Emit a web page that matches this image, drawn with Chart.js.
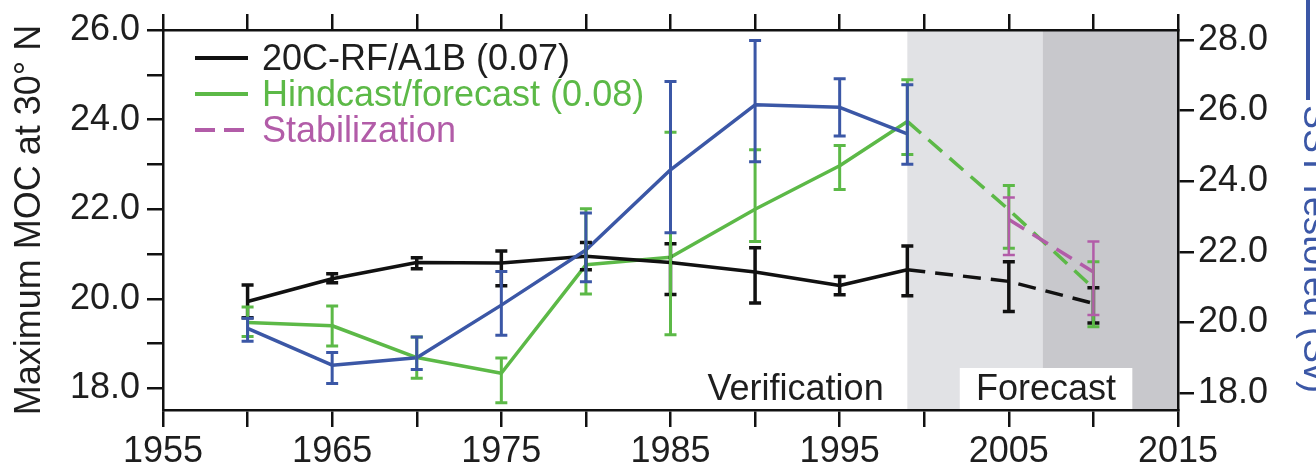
<!DOCTYPE html>
<html>
<head>
<meta charset="utf-8">
<title>Maximum MOC at 30° N</title>
<script src="https://cdn.jsdelivr.net/npm/chart.js@4.4.1/dist/chart.umd.min.js"></script>
<style>
  html, body { margin: 0; padding: 0; background: #fff; }
  #wrap { width: 1316px; height: 474px; }
</style>
</head>
<body>
<div id="wrap"><canvas id="mocChart" width="1316" height="474"></canvas></div>
<script>
// --- values ---
const years = [1960, 1965, 1970, 1975, 1980, 1985, 1990, 1995, 1999, 2005, 2010];

// 20C-RF/A1B (left axis)
const rfMean = [19.94, 20.45, 20.81, 20.80, 20.95, 20.81, 20.60, 20.30, 20.65, 20.39, 19.90];
const rfHi   = [20.31, 20.56, 20.92, 21.07, 21.26, 21.23, 21.14, 20.50, 21.18, 20.83, 20.25];
const rfLo   = [19.58, 20.36, 20.67, 20.29, 20.65, 20.10, 19.91, 20.09, 20.07, 19.72, 19.46];

// Hindcast/forecast (left axis)
const hfMean = [19.47, 19.40, 18.69, 18.34, 20.76, 20.93, 22.00, 22.97, 23.96, 21.99, 20.24];
const hfHi   = [19.82, 19.84, 19.15, 18.68, 22.01, 23.72, 23.33, 23.42, 24.89, 22.53, 20.83];
const hfLo   = [19.16, 18.95, 18.23, 17.68, 20.11, 19.20, 21.28, 22.44, 23.22, 21.13, 19.38];

// Stabilization (left axis)
const stabYears = [2005, 2010];
const stabMean  = [21.77, 20.60];
const stabHi    = [22.26, 21.28];
const stabLo    = [20.98, 19.64];

// SST restored (right axis)
const sstYears = [1960, 1965, 1970, 1975, 1980, 1985, 1990, 1995, 1999];
const sstMean  = [19.83, 18.79, 19.00, 20.49, 22.05, 24.32, 26.16, 26.09, 25.34];
const sstHi    = [20.12, 19.15, 19.59, 21.44, 23.10, 26.82, 27.98, 26.90, 26.73];
const sstLo    = [19.47, 18.27, 18.67, 19.64, 21.15, 22.54, 24.55, 25.28, 24.48];

// axes
const xTicks = [1955, 1960, 1965, 1970, 1975, 1980, 1985, 1990, 1995, 2000, 2005, 2010, 2015];
const xLabels = [1955, 1965, 1975, 1985, 1995, 2005, 2015];
const leftTicks = [18, 19, 20, 21, 22, 23, 24, 25, 26];
const leftLabels = [18, 20, 22, 24, 26];
const rightTicks = [18, 19, 20, 21, 22, 23, 24, 25, 26, 27, 28];
const rightLabels = [18, 20, 22, 24, 26, 28];

// periods
const verificationStart = 1999;
const forecastStart = 2007;

const BLACK = '#111111';
const GREEN = '#5cb947';
const BLUE = '#3b57a6';
const MAGENTA = '#b25ca8';
const TEXT = '#1e1e1e';
const FONT = "'Liberation Sans', Arial, Helvetica, sans-serif";

Chart.defaults.font.family = FONT;
Chart.defaults.font.size = 36;
Chart.defaults.color = TEXT;

function toPoints(xs, ys) {
    return xs.map((x, i) => ({ x: x, y: ys[i] }));
}

// dashed once the forecast part starts
const dashAfterVerification = ctx => ctx.p0.parsed.x >= verificationStart ? [18, 10] : undefined;

const shadingPlugin = {
    id: 'shading',
    beforeDraw(chart) {
        const { ctx, chartArea: a, scales: { x } } = chart;
        const x0 = x.getPixelForValue(verificationStart);
        const x1 = x.getPixelForValue(forecastStart);
        ctx.save();
        ctx.fillStyle = '#e1e2e5';
        ctx.fillRect(x0, a.top, x1 - x0, a.bottom - a.top);
        ctx.fillStyle = '#c8c8cc';
        ctx.fillRect(x1, a.top, a.right - x1, a.bottom - a.top);

        // "Forecast" label on a white box
        const bx0 = x.getPixelForValue(2002.1);
        const bx1 = x.getPixelForValue(2012.3);
        ctx.fillStyle = '#ffffff';
        ctx.fillRect(bx0, a.bottom - 42, bx1 - bx0, 42);

        ctx.font = `36px ${FONT}`;
        ctx.fillStyle = TEXT;
        ctx.textBaseline = 'middle';
        ctx.textAlign = 'center';
        ctx.fillText('Forecast', (bx0 + bx1) / 2, a.bottom - 20);
        ctx.textAlign = 'right';
        ctx.fillText('Verification', x.getPixelForValue(1997.6), a.bottom - 20);
        ctx.restore();
    }
};

const errorBarPlugin = {
    id: 'errorBars',
    afterDatasetsDraw(chart) {
        const ctx = chart.ctx;
        chart.data.datasets.forEach((ds, i) => {
            if (!ds.errLo) return;
            const meta = chart.getDatasetMeta(i);
            const scale = chart.scales[ds.yAxisID];
            const half = ds.capHalf;
            ctx.save();
            ctx.strokeStyle = ds.borderColor;
            ctx.lineWidth = ds.errWidth;
            ctx.setLineDash([]);
            meta.data.forEach((pt, j) => {
                const top = scale.getPixelForValue(ds.errHi[j]);
                const bot = scale.getPixelForValue(ds.errLo[j]);
                ctx.beginPath();
                ctx.moveTo(pt.x, top);
                ctx.lineTo(pt.x, bot);
                ctx.moveTo(pt.x - half, top);
                ctx.lineTo(pt.x + half, top);
                ctx.moveTo(pt.x - half, bot);
                ctx.lineTo(pt.x + half, bot);
                ctx.stroke();
            });
            ctx.restore();
        });
    }
};

const legendPlugin = {
    id: 'insideLegend',
    afterDraw(chart) {
        const { ctx, chartArea: a } = chart;
        const items = chart.data.datasets.filter(ds => ds.inLegend);
        ctx.save();
        ctx.font = `36px ${FONT}`;
        ctx.textBaseline = 'middle';
        ctx.textAlign = 'left';
        items.forEach((ds, i) => {
            const y = a.top + 28 + i * 36;
            const x0 = a.left + 32;
            ctx.strokeStyle = ds.borderColor;
            ctx.lineWidth = 4;
            ctx.setLineDash(ds.legendDash || []);
            ctx.beginPath();
            ctx.moveTo(x0, y);
            ctx.lineTo(x0 + 53, y);
            ctx.stroke();
            ctx.fillStyle = ds.borderColor === BLACK ? TEXT : ds.borderColor;
            ctx.fillText(ds.label, x0 + 67, y + 2);
        });
        ctx.restore();
    }
};

// right axis title, with its line key, reading downwards
const rightTitlePlugin = {
    id: 'rightTitle',
    afterDraw(chart) {
        const ctx = chart.ctx;
        const w = chart.width;
        ctx.save();
        ctx.strokeStyle = BLUE;
        ctx.lineWidth = 4;
        ctx.beginPath();
        ctx.moveTo(w - 8, 0);
        ctx.lineTo(w - 8, 100);
        ctx.stroke();
        ctx.translate(w - 2, 105);
        ctx.rotate(Math.PI / 2);
        ctx.font = `36px ${FONT}`;
        ctx.fillStyle = BLUE;
        ctx.textAlign = 'left';
        ctx.textBaseline = 'middle';
        ctx.fillText('SST restored (Sv)', 0, 0);
        ctx.restore();
    }
};

const axisLine = { display: true, color: BLACK, width: 2.5 };
const tickMarks = { drawOnChartArea: false, drawTicks: true, tickLength: 17, color: BLACK, lineWidth: 2.5 };

new Chart(document.getElementById('mocChart'), {
    type: 'line',
    data: {
        datasets: [
            {
                label: '20C-RF/A1B (0.07)',
                data: toPoints(years, rfMean),
                errLo: rfLo, errHi: rfHi, errWidth: 3.5, capHalf: 6,
                borderColor: BLACK, borderWidth: 3.5,
                yAxisID: 'y', order: 2, inLegend: true,
                segment: { borderDash: dashAfterVerification }
            },
            {
                label: 'Hindcast/forecast (0.08)',
                data: toPoints(years, hfMean),
                errLo: hfLo, errHi: hfHi, errWidth: 3, capHalf: 6,
                borderColor: GREEN, borderWidth: 3.5,
                yAxisID: 'y', order: 4, inLegend: true,
                segment: { borderDash: dashAfterVerification }
            },
            {
                label: 'Stabilization',
                data: toPoints(stabYears, stabMean),
                errLo: stabLo, errHi: stabHi, errWidth: 2.5, capHalf: 6,
                borderColor: MAGENTA, borderWidth: 3.5, borderDash: [18, 10],
                legendDash: [20, 9],
                yAxisID: 'y', order: 3, inLegend: true
            },
            {
                label: 'SST restored',
                data: toPoints(sstYears, sstMean),
                errLo: sstLo, errHi: sstHi, errWidth: 3, capHalf: 6,
                borderColor: BLUE, borderWidth: 3.5,
                yAxisID: 'y2', order: 1
            }
        ]
    },
    options: {
        responsive: false,
        animation: false,
        devicePixelRatio: 1,
        layout: { padding: 0 },
        elements: {
            point: { radius: 0, hoverRadius: 0 },
            line: { tension: 0, fill: false, borderJoinStyle: 'round' }
        },
        plugins: {
            legend: { display: false },
            tooltip: { enabled: false }
        },
        scales: {
            x: {
                type: 'linear', position: 'bottom', min: 1955, max: 2015,
                afterBuildTicks: s => { s.ticks = xTicks.map(v => ({ value: v })); },
                afterFit: s => { s.height = 64; },
                ticks: {
                    autoSkip: false, maxRotation: 0, padding: 3, color: TEXT,
                    callback: v => xLabels.includes(v) ? String(v) : ''
                },
                grid: tickMarks,
                border: axisLine
            },
            xTop: {
                type: 'linear', position: 'top', min: 1955, max: 2015,
                afterBuildTicks: s => { s.ticks = xTicks.map(v => ({ value: v })); },
                afterFit: s => { s.height = 30; },
                ticks: { callback: () => '' },
                grid: { ...tickMarks, tickLength: 16 },
                border: axisLine
            },
            y: {
                type: 'linear', position: 'left', min: 17.52, max: 26,
                afterBuildTicks: s => { s.ticks = leftTicks.map(v => ({ value: v })); },
                afterFit: s => { s.width = 163; },
                ticks: {
                    padding: 7, color: TEXT,
                    callback: v => leftLabels.includes(v) ? v.toFixed(1) : ''
                },
                grid: { ...tickMarks, tickLength: 16 },
                border: axisLine,
                title: {
                    display: true, text: 'Maximum MOC at 30° N',
                    color: TEXT, padding: { top: 8, bottom: 0 },
                    font: { size: 36 }
                }
            },
            y2: {
                type: 'linear', position: 'right', min: 17.52, max: 28.28,
                afterBuildTicks: s => { s.ticks = rightTicks.map(v => ({ value: v })); },
                afterFit: s => { s.width = 138; },
                ticks: {
                    padding: 4, color: TEXT,
                    callback: v => rightLabels.includes(v) ? v.toFixed(1) : ''
                },
                grid: { ...tickMarks, tickLength: 16 },
                border: axisLine
            }
        }
    },
    plugins: [shadingPlugin, errorBarPlugin, legendPlugin, rightTitlePlugin]
});
</script>
</body>
</html>
